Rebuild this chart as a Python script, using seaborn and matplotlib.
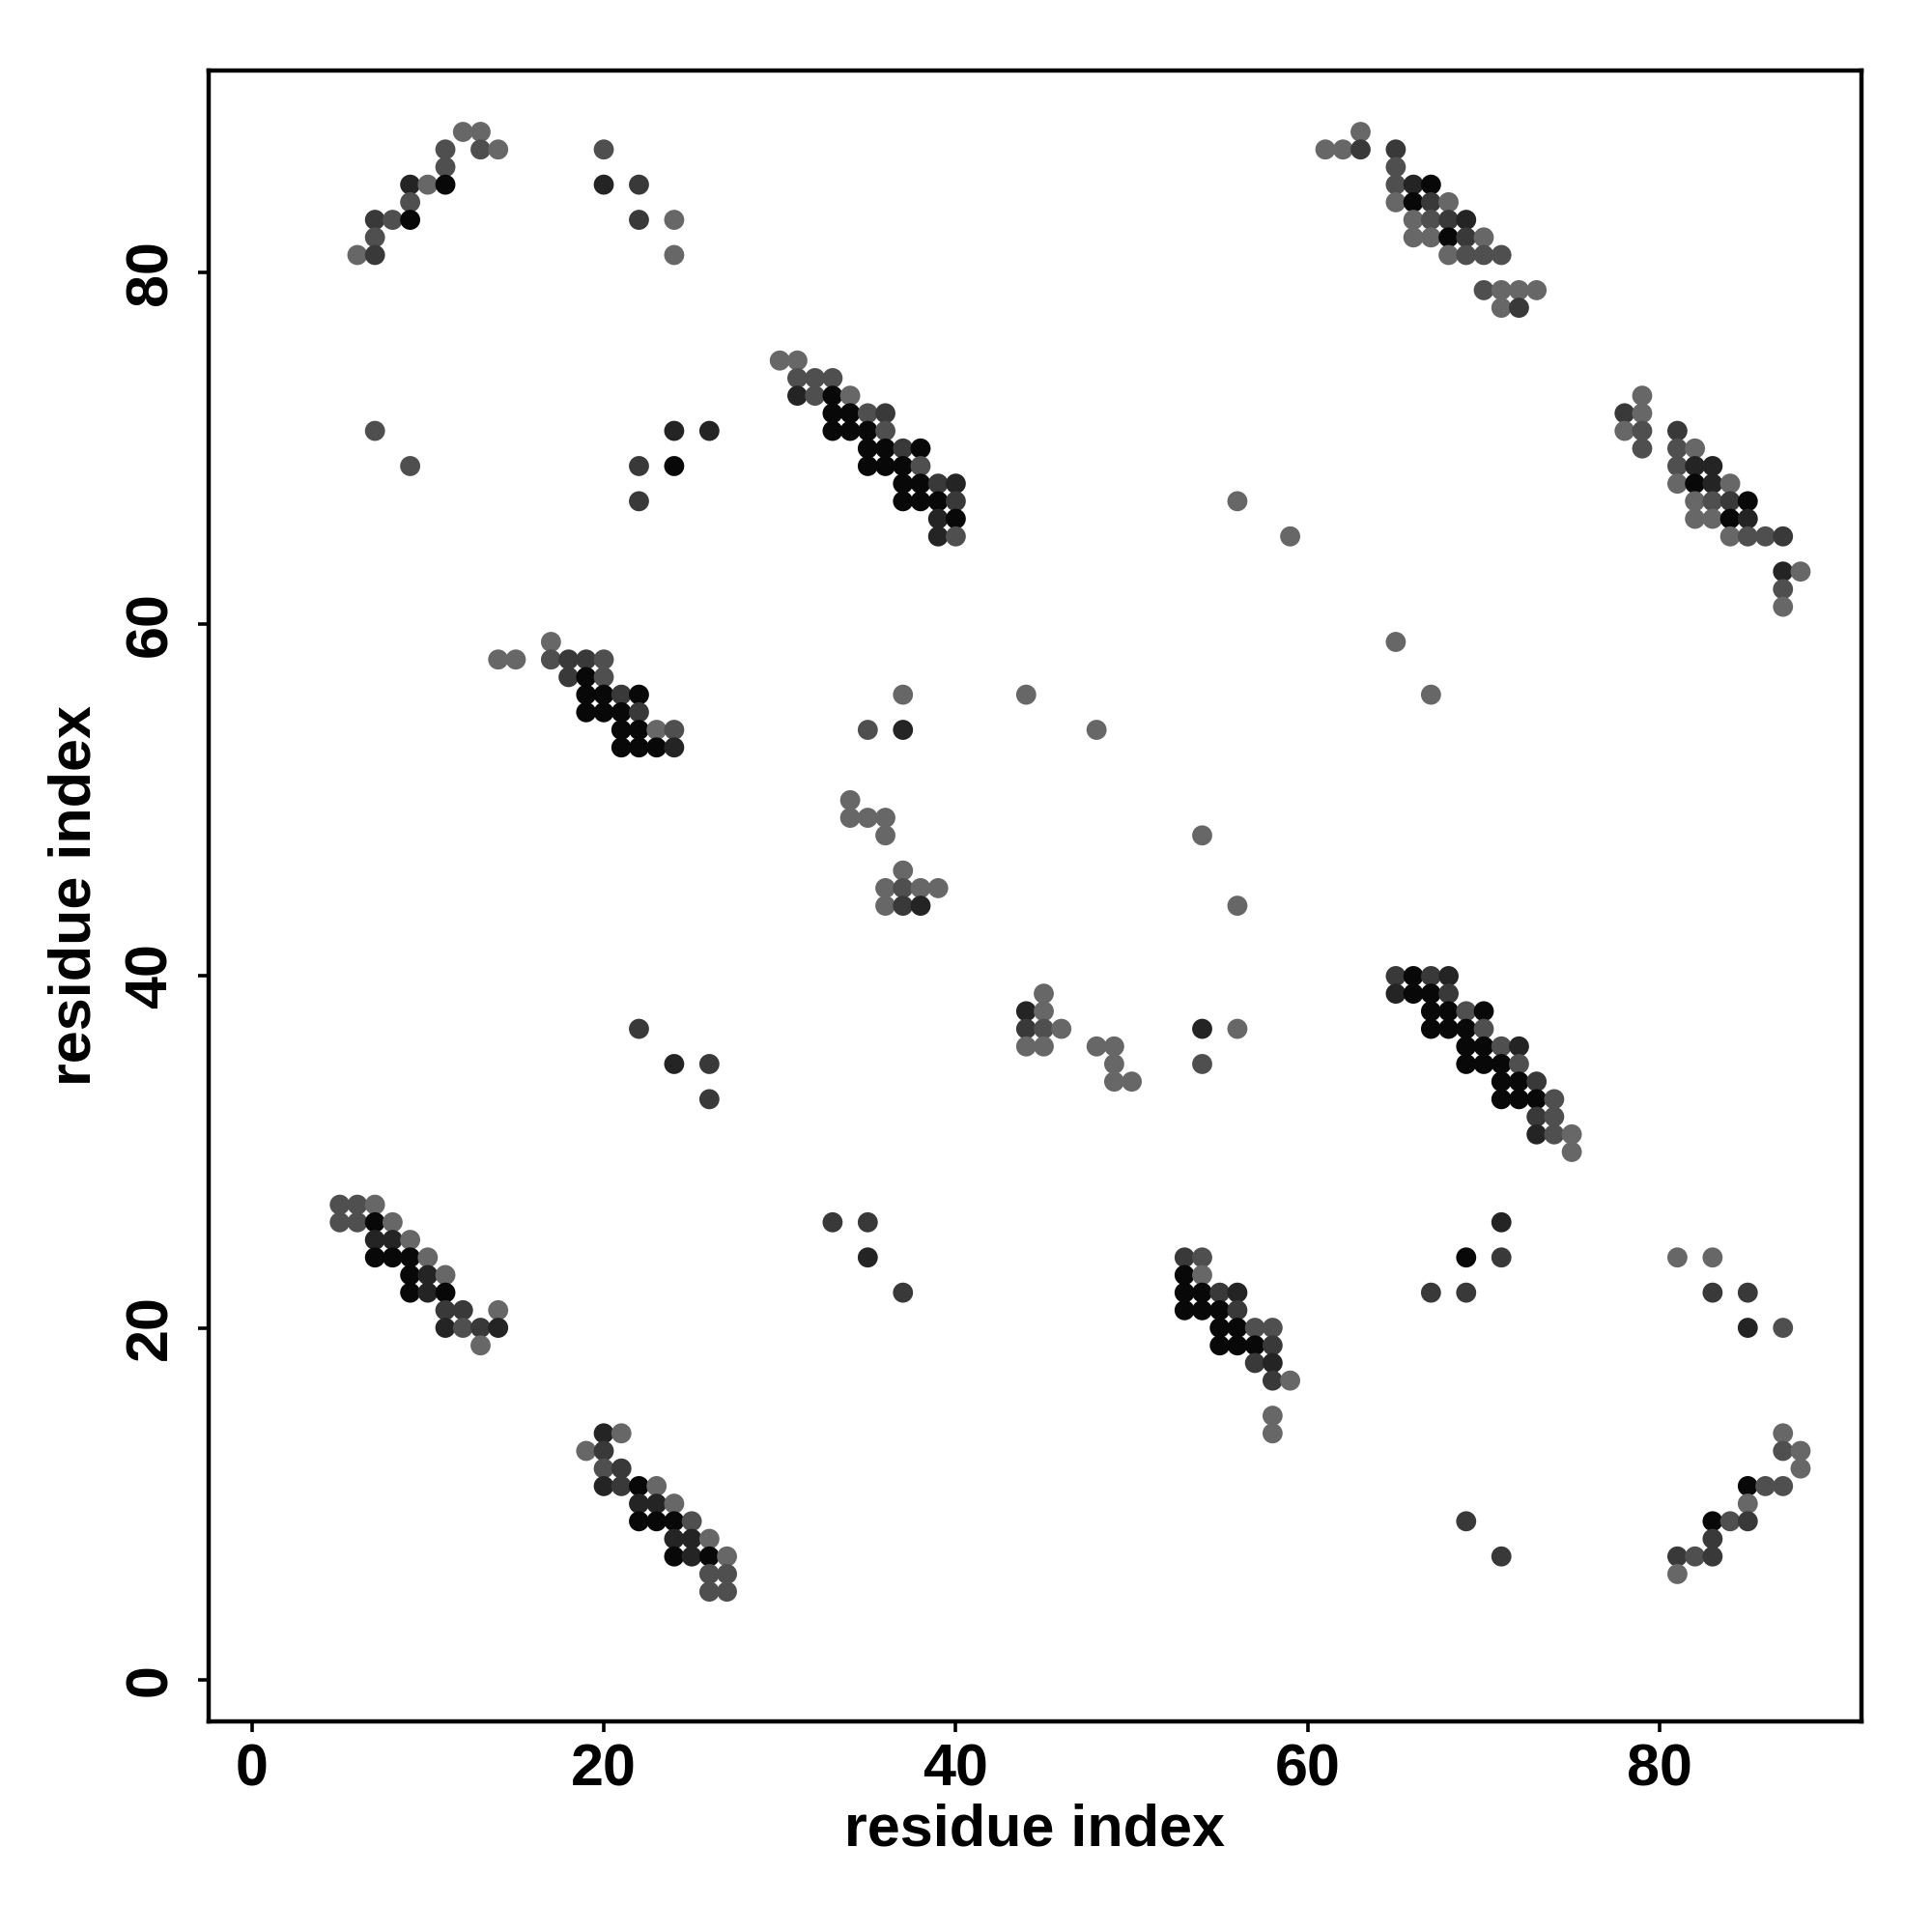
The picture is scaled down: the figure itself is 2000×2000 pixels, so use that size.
import matplotlib
matplotlib.use("Agg")
import matplotlib.pyplot as plt
import pandas as pd
import seaborn as sns

sns.set_style("white")
plt.rcParams["font.family"] = ["Liberation Sans", "DejaVu Sans"]

# contact map: residue i, residue j, contact strength level (1 = weak/light, 5 = strong/black)
res_i = [
    5, 6, 7, 5, 6, 7, 8, 7, 8, 9, 7, 8, 9, 10, 9, 10, 11, 9, 10, 11, 11, 12, 14, 11, 12, 13, 14, 13,
    20, 21, 19, 20, 20, 21, 20, 21, 22, 23, 22, 23, 24, 22, 23, 24, 25, 24, 25, 26, 24, 25, 26, 27, 26, 27, 26, 27,
    33, 35, 35, 37,
    53, 54, 53, 54, 53, 54, 55, 56, 53, 54, 55, 56, 55, 56, 57, 58, 55, 56, 57, 58, 57, 58, 58, 59, 58, 58,
    71, 69, 71, 81, 83, 67, 69, 83, 85, 85, 87, 87, 87, 88, 88, 85, 86, 87, 85, 83, 84, 85, 83, 81, 82, 83, 81, 69, 71,
    17, 14, 15, 17, 18, 19, 20, 18, 19, 20, 19, 20, 21, 22, 19, 20, 21, 22, 21, 22, 23, 24, 21, 22, 23, 24,
    22, 24, 26, 26,
    37, 44, 35, 37, 48, 34, 34, 35, 36, 36, 54, 37, 36, 37, 38, 39, 36, 37, 38, 56,
    45, 44, 45, 44, 45, 46, 54, 56, 44, 45, 48, 49, 49, 54, 49, 50,
    65, 67,
    65, 66, 67, 68, 65, 66, 67, 68, 67, 68, 69, 70, 67, 68, 69, 70, 69, 70, 71, 72, 69, 70, 71, 72,
    71, 72, 73, 71, 72, 73, 74, 73, 74, 73, 74, 75, 75,
    12, 13, 11, 13, 14, 20, 11, 9, 10, 11, 20, 22, 9, 7, 8, 9, 22, 24, 7, 6, 7, 24,
    7, 24, 26, 9, 22, 24, 22,
    30, 31, 31, 32, 33, 31, 32, 33, 34, 33, 34, 35, 36, 33, 34, 35, 36, 35, 36, 37, 38, 35, 36, 37, 38,
    37, 38, 39, 40, 37, 38, 39, 40, 39, 40, 39, 40, 56, 59,
    63, 61, 62, 63, 65, 65, 65, 66, 67, 65, 66, 67, 68, 66, 67, 68, 69, 66, 67, 68, 69, 70,
    68, 69, 70, 71, 70, 71, 72, 73, 71, 72,
    79, 78, 79, 78, 79, 79, 81, 81, 82, 81, 82, 83, 81, 82, 83, 84, 82, 83, 84, 85, 82, 83, 84, 85,
    84, 85, 86, 87, 87, 88, 87, 87,
]
res_j = [
    27, 27, 27, 26, 26, 26, 26, 25, 25, 25, 24, 24, 24, 24, 23, 23, 23, 22, 22, 22, 21, 21, 21, 20, 20, 20, 20, 19,
    14, 14, 13, 13, 12, 12, 11, 11, 11, 11, 10, 10, 10, 9, 9, 9, 9, 8, 8, 8, 7, 7, 7, 7, 6, 6, 5, 5,
    26, 26, 24, 22,
    24, 24, 23, 23, 22, 22, 22, 22, 21, 21, 21, 21, 20, 20, 20, 20, 19, 19, 19, 19, 18, 18, 17, 17, 15, 14,
    26, 24, 24, 24, 24, 22, 22, 22, 22, 20, 20, 14, 13, 13, 12, 11, 11, 11, 10, 9, 9, 9, 8, 7, 7, 7, 6, 9, 7,
    59, 58, 58, 58, 58, 58, 58, 57, 57, 57, 56, 56, 56, 56, 55, 55, 55, 55, 54, 54, 54, 54, 53, 53, 53, 53,
    37, 35, 35, 33,
    56, 56, 54, 54, 54, 50, 49, 49, 49, 48, 48, 46, 45, 45, 45, 45, 44, 44, 44, 44,
    39, 38, 38, 37, 37, 37, 37, 37, 36, 36, 36, 36, 35, 35, 34, 34,
    59, 56,
    40, 40, 40, 40, 39, 39, 39, 39, 38, 38, 38, 38, 37, 37, 37, 37, 36, 36, 36, 36, 35, 35, 35, 35,
    34, 34, 34, 33, 33, 33, 33, 32, 32, 31, 31, 31, 30,
    88, 88, 87, 87, 87, 87, 86, 85, 85, 85, 85, 85, 84, 83, 83, 83, 83, 83, 82, 81, 81, 81,
    71, 71, 71, 69, 69, 69, 67,
    75, 75, 74, 74, 74, 73, 73, 73, 73, 72, 72, 72, 72, 71, 71, 71, 71, 70, 70, 70, 70, 69, 69, 69, 69,
    68, 68, 68, 68, 67, 67, 67, 67, 66, 66, 65, 65, 67, 65,
    88, 87, 87, 87, 87, 86, 85, 85, 85, 84, 84, 84, 84, 83, 83, 83, 83, 82, 82, 82, 82, 82,
    81, 81, 81, 81, 79, 79, 79, 79, 78, 78,
    73, 72, 72, 71, 71, 70, 71, 70, 70, 69, 69, 69, 68, 68, 68, 68, 67, 67, 67, 67, 66, 66, 66, 66,
    65, 65, 65, 65, 63, 63, 62, 61,
]
level = [
    2, 2, 1, 2, 2, 5, 1, 4, 4, 1, 5, 5, 5, 1, 5, 4, 1, 5, 4, 5, 3, 3, 1, 4, 2, 3, 4, 1,
    4, 1, 1, 3, 2, 3, 4, 3, 5, 1, 4, 4, 1, 5, 5, 5, 2, 4, 4, 1, 5, 4, 5, 1, 2, 2, 2, 2,
    3, 3, 4, 3,
    3, 2, 5, 1, 5, 5, 3, 4, 5, 5, 5, 3, 5, 5, 2, 2, 5, 5, 5, 3, 3, 4, 3, 1, 1, 1,
    4, 5, 3, 1, 1, 3, 3, 3, 3, 4, 2, 1, 2, 1, 1, 5, 2, 2, 1, 5, 2, 3, 3, 3, 2, 3, 1, 3, 3,
    1, 1, 1, 2, 3, 3, 2, 3, 5, 2, 5, 5, 3, 5, 5, 5, 5, 3, 5, 5, 1, 2, 5, 5, 5, 4,
    3, 4, 3, 3,
    1, 1, 2, 4, 1, 1, 1, 1, 1, 1, 1, 1, 1, 2, 1, 1, 1, 3, 4, 1,
    1, 4, 1, 3, 2, 1, 4, 1, 1, 1, 1, 1, 1, 2, 1, 1,
    1, 1,
    3, 5, 3, 4, 4, 5, 5, 3, 5, 5, 2, 5, 5, 5, 5, 2, 5, 5, 2, 4, 5, 5, 5, 2,
    5, 5, 3, 5, 5, 5, 2, 3, 2, 4, 2, 1, 1,
    1, 1, 2, 2, 1, 2, 2, 4, 1, 5, 4, 3, 2, 3, 2, 5, 3, 1, 2, 1, 3, 1,
    2, 4, 4, 2, 3, 5, 3,
    1, 1, 2, 2, 2, 4, 2, 5, 1, 5, 5, 2, 3, 5, 5, 5, 2, 5, 5, 3, 5, 5, 5, 5, 2,
    5, 5, 3, 4, 5, 5, 5, 3, 4, 5, 4, 2, 1, 1,
    1, 1, 1, 3, 3, 2, 2, 4, 5, 1, 5, 3, 1, 1, 2, 3, 4, 1, 1, 5, 3, 1,
    1, 2, 2, 2, 2, 1, 1, 1, 1, 3,
    1, 3, 1, 1, 2, 2, 3, 2, 1, 2, 4, 4, 1, 5, 4, 1, 1, 2, 3, 5, 1, 1, 5, 4,
    1, 2, 2, 3, 4, 1, 2, 1,
]

tick_values = [0, 20, 40, 60, 80]
gray_levels = {1: "#676767", 2: "#4f4f4f", 3: "#393939", 4: "#242424", 5: "#080808"}

df = pd.DataFrame({"i": res_i, "j": res_j, "level": level})

fig = plt.figure(figsize=(10, 10), dpi=200)
ax = fig.add_axes([0.108, 0.109, 0.8555, 0.8545])
sns.scatterplot(data=df, x="i", y="j", hue="level", palette=gray_levels,
                s=56, linewidth=0, legend=False, ax=ax)

ax.set_xlim(-2.45, 91.46)
ax.set_ylim(-2.38, 91.49)
ax.set_xticks(tick_values)
ax.set_yticks(tick_values)
ax.set_xticklabels([str(t) for t in tick_values], fontsize=22, fontweight="bold")
ax.set_yticklabels([str(t) for t in tick_values], fontsize=22, fontweight="bold",
                   rotation=90, va="center")
ax.tick_params(axis="both", direction="out", length=4, width=1.3, pad=4,
               bottom=True, left=True, colors="black")
ax.tick_params(axis="y", pad=7)
ax.set_xlabel("residue index", fontsize=22, fontweight="bold", labelpad=2, color="black")
ax.set_ylabel("residue index", fontsize=22, fontweight="bold", labelpad=8, color="black")
for sp in ax.spines.values():
    sp.set_visible(True)
    sp.set_color("black")
    sp.set_linewidth(1.6)

fig.savefig("out.png", dpi=200, facecolor="white")
